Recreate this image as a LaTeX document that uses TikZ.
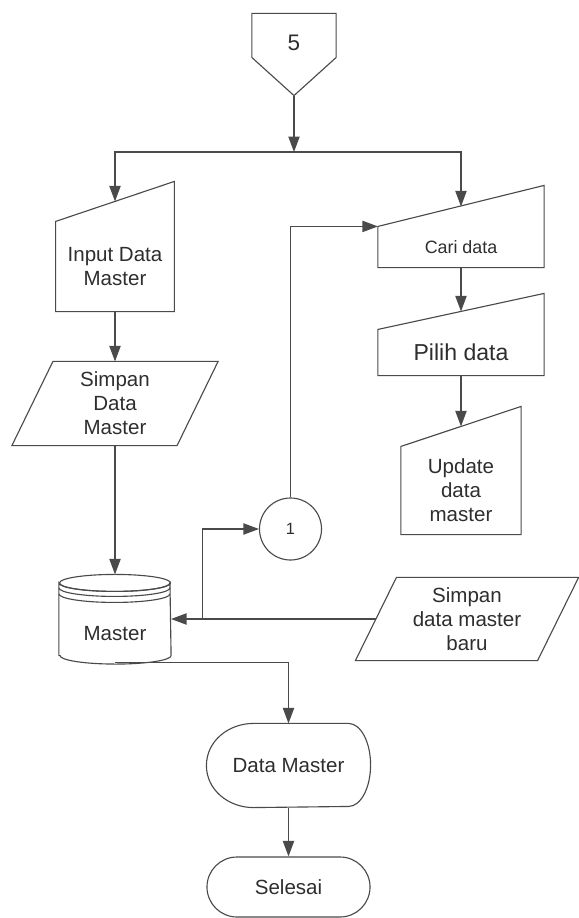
\documentclass[tikz,border=0pt]{standalone}
\usepackage{fontspec}
\setmainfont{Liberation Sans}
\usetikzlibrary{arrows.meta,shapes.misc}
\definecolor{FlowGray}{HTML}{4A4A4A}
\definecolor{FlowText}{HTML}{2E2E2E}

\begin{document}
\begin{tikzpicture}[x=0.025cm,y=-0.025cm,line width=0.8pt,color=FlowGray,
  b/.style={inner sep=0pt,align=center,text=FlowText,font=\fontsize{14.6pt}{17pt}\selectfont},
  arr/.style={-{Triangle[length=11pt,width=8pt]}}]
  \useasboundingbox (0,0) rectangle (578,918);
  % off-page connector
  \node[b,minimum width=2.075cm,minimum height=1.45cm,font=\fontsize{16pt}{19pt}\selectfont] (p5) at (294,43) {5};
  \draw (p5.north west) -- (p5.north east) -- ([yshift=0.375cm]p5.south east) -- ([yshift=-0.575cm]p5.south) coordinate (p5tip) -- ([yshift=0.375cm]p5.south west) -- cycle;
  \coordinate (split) at (294,152);
  % manual input
  \node[b,minimum width=2.94cm,minimum height=2.225cm] (inp) at (115,266.5) {Input Data\\Master};
  \draw (inp.south west) -- (inp.north west) -- ([yshift=1cm]inp.north east) -- (inp.south east) -- cycle;
  \node[b,minimum width=4.125cm,minimum height=1cm,font=\fontsize{12.7pt}{15pt}\selectfont] (cari) at (461,247) {Cari data};
  \draw (cari.south west) -- (cari.north west) -- ([yshift=1.025cm]cari.north east) -- (cari.south east) -- cycle;
  \node[b,minimum width=4.125cm,minimum height=1.125cm,font=\fontsize{16.4pt}{19pt}\selectfont] (pilih) at (461,352.5) {Pilih data};
  \draw (pilih.south west) -- (pilih.north west) -- ([yshift=0.9cm]pilih.north east) -- (pilih.south east) -- cycle;
  \node[b,minimum width=2.975cm,minimum height=2.175cm] (upd) at (461,490.5) {Update\\data\\master};
  \draw (upd.south west) -- (upd.north west) -- ([yshift=1cm]upd.north east) -- (upd.south east) -- cycle;
  % data
  \node[b,minimum width=5.125cm,minimum height=2.075cm] (sdm) at (115,403.5) {Simpan\\Data\\Master};
  \draw ([xshift=1.025cm]sdm.north west) -- (sdm.north east) -- ([xshift=-1.025cm]sdm.south east) -- (sdm.south west) -- cycle;
  \node[b,minimum width=5.55cm,minimum height=2.05cm] (baru) at (467,619) {Simpan\\data master\\baru};
  \draw ([xshift=1.025cm]baru.north west) -- (baru.north east) -- ([xshift=-1.025cm]baru.south east) -- (baru.south west) -- cycle;
  % disk
  \node[b,minimum width=2.775cm,minimum height=1.4cm] (master) at (115,634) {Master};
  \draw ([yshift=0.175cm]master.south west) -- ([yshift=0.5625cm]master.north west) arc[start angle=180,end angle=360,x radius=1.3875cm,y radius=0.2125cm] -- ([yshift=0.175cm]master.south east) arc[start angle=0,end angle=-180,x radius=1.3875cm,y radius=0.2125cm] -- cycle;
  \draw ([yshift=0.5625cm]master.north) ellipse[x radius=1.3875cm,y radius=0.2125cm];
  \draw ([yshift=0.4375cm]master.north west) arc[start angle=180,end angle=360,x radius=1.3875cm,y radius=0.2125cm];
  \draw ([yshift=0.2875cm]master.north west) arc[start angle=180,end angle=360,x radius=1.3875cm,y radius=0.2125cm];
  \node[b,circle,draw,minimum size=1.55cm,font=\fontsize{11.6pt}{14pt}\selectfont] (c1) at (290.5,529) {1};
  % display
  \node[b,minimum width=4.075cm,minimum height=2.075cm] (dm) at (288.5,765.5) {Data Master};
  \draw ([xshift=1.175cm]dm.north west) -- ([xshift=-0.55cm]dm.north east) arc[start angle=90,end angle=-90,x radius=0.55cm,y radius=1.0375cm] -- ([xshift=1.175cm]dm.south west) to[out=180,in=-90] (dm.west) to[out=90,in=180] ([xshift=1.175cm]dm.north west) -- cycle;
  \node[b,rounded rectangle,draw,minimum width=4.075cm,minimum height=1.5cm] (sel) at (288.5,887) {Selesai};
  % connectors
  \draw[arr] (p5tip) -- (split);
  \draw[arr] (split) -| ([yshift=0.5cm]inp.north);
  \draw[arr] (split) -| ([yshift=0.5cm]cari.north);
  \draw[arr] (cari.south) -- ([yshift=0.45cm]pilih.north);
  \draw[arr] (pilih.south) -- ([yshift=0.5cm]upd.north);
  \draw[arr] (inp.south) -- (sdm.north);
  \draw[arr] (sdm.south) -- ([yshift=0.775cm]master.north);
  \coordinate (mj) at ([xshift=0.775cm]baru.west -| master.east);
  \draw[arr] ([xshift=0.5125cm]baru.west) -- (baru.west -| master.east);
  \draw[arr] (mj) |- (c1.west);
  \draw[arr] (c1.north) |- (cari.north west);
  \draw[arr] (master.south) -| (dm.north);
  \draw[arr] (dm.south) -- (sel.north);
\end{tikzpicture}
\end{document}
